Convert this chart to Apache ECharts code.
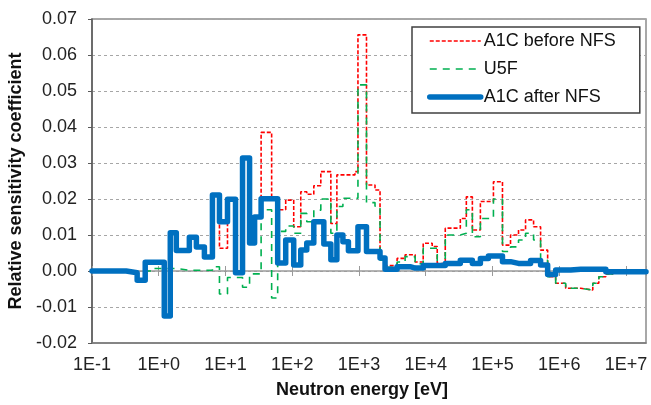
<!DOCTYPE html>
<html><head><meta charset="utf-8">
<script src="https://cdn.jsdelivr.net/npm/echarts@6/dist/echarts.min.js"></script>
<style>html,body{margin:0;padding:0;background:#fff}#c{width:651px;height:405px}</style>
</head><body><div id="c"></div>
<script>
// Group boundaries (eV)
const energyEdges = [0.1, 0.325, 0.475, 0.627, 0.856, 1.21, 1.489, 1.833, 2.875, 3.664,
  4.832, 6.376, 8.125, 10.72, 14.14, 18.02, 22.96, 27.31, 34.19, 49.17,
  60.54, 79.89, 105.3, 134.3, 165.2, 210.6, 268.3, 297.7, 379.2, 466.9,
  574.7, 695.3, 870.9, 966, 1297, 1740, 2069, 2460, 3728, 4917,
  5848, 6953, 9171, 12520, 14890, 19650, 33020, 40640, 50030, 65990,
  87060, 103500, 141400, 186600, 246000, 313500, 372700, 413500, 527000, 671800,
  886200, 1252000, 1489000, 2105000, 3190000, 3927000, 5003000, 6376000, 20000000];

const a1cBefore = [0, -0.0005, -0.0026, 0.0024, 0.0024, -0.0125, 0.0106, 0.0057, 0.0094, 0.0067,
  0.0039, 0.0211, 0.0063, 0.0199, -0.0005, 0.0314, 0.0078, 0.0150, 0.0385, 0.0201,
  0.0170, 0.0197, 0.0123, 0.0220, 0.0213, 0.0237, 0.0276, 0.0276, 0.0132, 0.0267,
  0.0267, 0.0267, 0.0276, 0.0656, 0.0239, 0.0225, 0.0035, 0.0015, 0.0035, 0.0045,
  0.0045, 0.0025, 0.0077, 0.0068, 0.0021, 0.0119, 0.0146, 0.0206, 0.0114, 0.0193,
  0.0193, 0.0248, 0.0072, 0.0100, 0.0114, 0.0142, 0.0142, 0.0123, 0.0058, -0.0016,
  -0.0034, -0.0048, -0.0048, -0.0053, -0.0034, -0.0016, -0.0008, 0];

const u5f = [0, 0, 0, 0, 0.0007, 0.0007, 0.0007, 0.0002, 0.0002, 0.0002,
  0.0002, 0.0012, -0.0064, -0.0018, -0.0018, -0.0045, -0.0008, -0.0008, 0.0170, -0.0075,
  0.0110, 0.0125, 0.0105, 0.0160, 0.0137, 0.0169, 0.0200, 0.0200, 0.0105, 0.0179,
  0.0202, 0.0202, 0.0202, 0.0517, 0.0190, 0.0180, 0.0030, 0.0010, 0.0025, 0.0040,
  0.0040, 0.0020, 0.0063, 0.0063, 0.0015, 0.0100, 0.0105, 0.0170, 0.0095, 0.0146,
  0.0146, 0.0200, 0.0054, 0.0067, 0.0086, 0.0105, 0.0105, 0.0086, 0.0030, -0.0016,
  -0.0034, -0.0048, -0.0048, -0.0053, -0.0034, -0.0016, -0.0008, 0];

const a1cAfter = [0, -0.0005, -0.0026, 0.0024, 0.0024, -0.0125, 0.0106, 0.0057, 0.0094, 0.0067,
  0.0039, 0.0211, 0.0137, 0.0199, -0.0005, 0.0314, 0.0078, 0.0150, 0.0201, 0.0201,
  0.0022, 0.0086, 0.0017, 0.0058, 0.0078, 0.0137, 0.0137, 0.0075, 0.0031, 0.0100,
  0.0081, 0.0056, 0.0056, 0.0123, 0.0054, 0.0054, 0.0036, 0.0005, 0.0012, 0.0012,
  0.0008, 0.0008, 0.0015, 0.0015, 0.0015, 0.0021, 0.0030, 0.0030, 0.0021, 0.0035,
  0.0042, 0.0042, 0.0026, 0.0021, 0.0021, 0.0021, 0.0029, 0.0029, 0.0017, -0.0010,
  0.0003, 0.0003, 0.0005, 0.0005, 0.0005, 0.0005, -0.0002, -0.0002];

const seriesNames = ['A1C before NFS', 'U5F', 'A1C after NFS'];
const xTickLabels = ['1E-1', '1E+0', '1E+1', '1E+2', '1E+3', '1E+4', '1E+5', '1E+6', '1E+7'];
const xTitle = 'Neutron energy [eV]';
const yTitle = 'Relative sensitivity coefficient';

function stepData(edges, vals) {
  const d = vals.map((v, i) => [edges[i], v]);
  d.push([edges[edges.length - 1], vals[vals.length - 1]]);
  return d;
}

const FONT = "'Liberation Sans', Arial, sans-serif";
const logAxisBase = { type: 'log', logBase: 10, min: 0.1, max: 2e7, gridIndex: 0, splitLine: { show: false } };

const chart = echarts.init(document.getElementById('c'), null, { renderer: 'canvas' });
chart.setOption({
  animation: false,
  backgroundColor: '#ffffff',
  grid: { left: 92, top: 19, right: 5, bottom: 62, show: true, borderColor: '#8c8c8c', borderWidth: 1.5, outerBoundsMode: 'none' },
  legend: {
    orient: 'vertical', left: 412, top: 27,
    padding: [5, 24, 7, 15], itemGap: 10, itemWidth: 51, itemHeight: 14,
    backgroundColor: '#ffffff', borderColor: '#404040', borderWidth: 1.5, borderRadius: 0,
    itemStyle: { color: 'rgba(0,0,0,0)', borderWidth: 0, opacity: 0 },
    lineStyle: { width: 'inherit', type: 'inherit' },
    textStyle: { fontFamily: FONT, fontSize: 18, color: '#111', padding: [0, 0, 0, -2] },
    data: seriesNames
  },
  xAxis: [
    Object.assign({}, logAxisBase, {
      position: 'bottom',
      axisLine: { show: true, onZero: false, lineStyle: { color: '#7a7a7a', width: 1.5 } },
      axisTick: { show: false },
      axisLabel: {
        margin: 13, fontFamily: FONT, fontSize: 18, color: '#222',
        showMaxLabel: false,
        formatter: function (v) {
          const l = Math.log10(v), k = Math.round(l);
          if (Math.abs(l - k) > 1e-6) return '';
          return xTickLabels[k + 1] || '';
        }
      },
      name: xTitle, nameLocation: 'middle', nameGap: 38,
      nameTextStyle: { fontFamily: FONT, fontSize: 18, fontWeight: 'bold', color: '#111', padding: [0, 14, 0, 0] }
    }),
    Object.assign({}, logAxisBase, {
      position: 'bottom',
      axisLine: { show: true, onZero: true, onZeroAxisIndex: 0, lineStyle: { color: '#9a9a9a', width: 1.5 } },
      axisTick: { show: true, inside: false, length: 5, lineStyle: { color: '#9a9a9a', width: 1 } },
      axisLabel: { show: false }
    }),
    Object.assign({}, logAxisBase, {
      position: 'bottom',
      axisLine: { show: false, onZero: true, onZeroAxisIndex: 0 },
      axisTick: { show: true, inside: true, length: 5, lineStyle: { color: '#9a9a9a', width: 1 } },
      axisLabel: { show: false }
    })
  ],
  yAxis: {
    type: 'value', min: -0.02, max: 0.07, interval: 0.01,
    axisLine: { show: true, lineStyle: { color: '#595959', width: 1.5 } },
    axisTick: { show: true, inside: false, length: 4, lineStyle: { color: '#595959' } },
    axisLabel: { margin: 15, fontFamily: FONT, fontSize: 18, color: '#222', formatter: v => v.toFixed(2) },
    splitLine: { show: true, lineStyle: { color: '#a6a6a6', type: [3, 3], width: 1 } },
    name: yTitle, nameLocation: 'middle', nameGap: 64,
    nameTextStyle: { fontFamily: FONT, fontSize: 18, fontWeight: 'bold', color: '#111' }
  },
  series: [
    { name: seriesNames[0], type: 'line', step: 'end', xAxisIndex: 0, symbol: 'none', z: 3,
      data: stepData(energyEdges, a1cBefore), color: '#ff0000',
      lineStyle: { color: '#ff0000', width: 1.6, type: [4, 2] } },
    { name: seriesNames[1], type: 'line', step: 'end', xAxisIndex: 0, symbol: 'none', z: 3,
      data: stepData(energyEdges, u5f), color: '#00b050',
      lineStyle: { color: '#00b050', width: 1.6, type: [7, 6] } },
    { name: seriesNames[2], type: 'line', step: 'end', xAxisIndex: 0, symbol: 'none', z: 4,
      data: stepData(energyEdges, a1cAfter), color: '#0070c0',
      lineStyle: { color: '#0070c0', width: 5.5, join: 'round', cap: 'round' } }
  ]
});
</script></body></html>
